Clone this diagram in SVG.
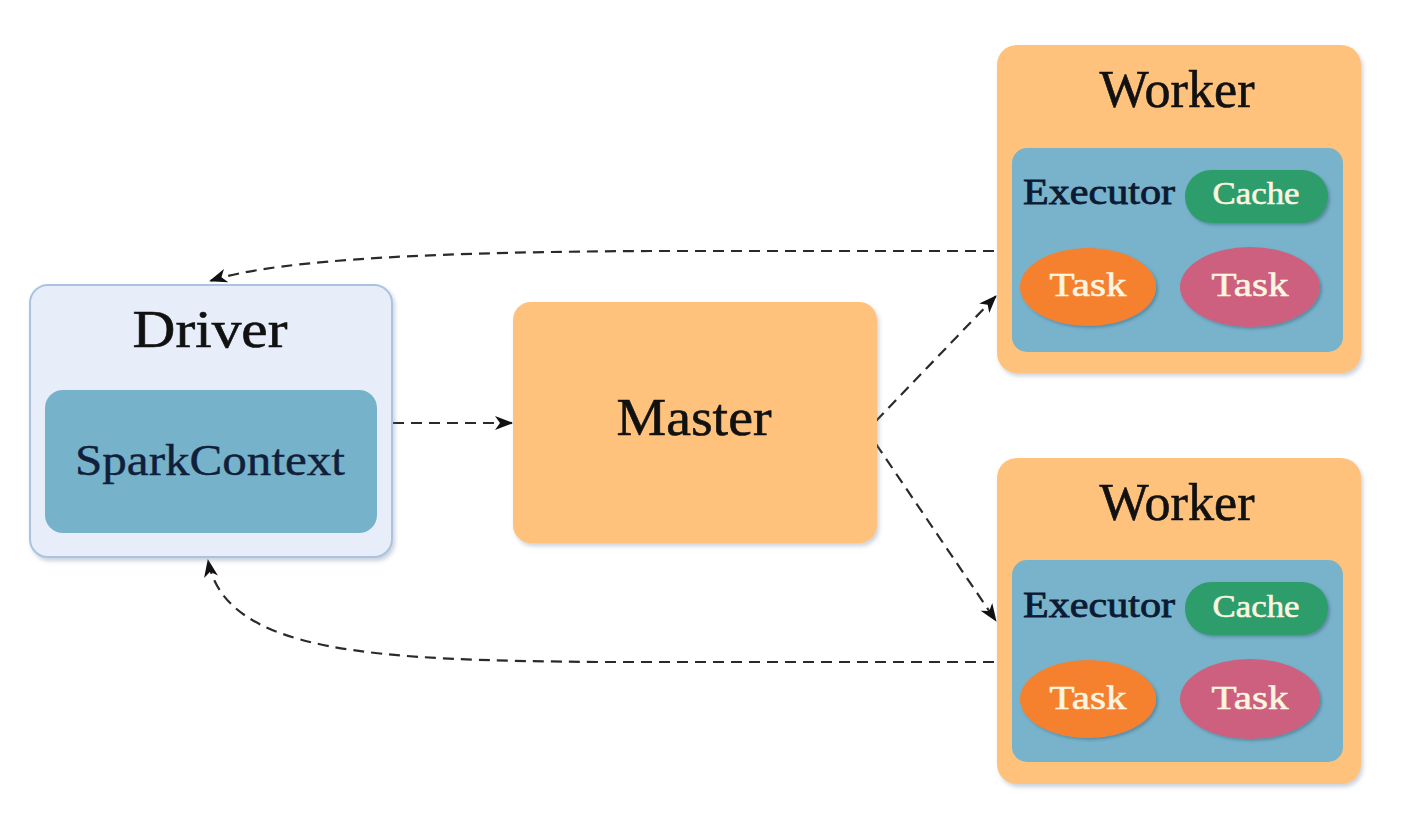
<svg xmlns="http://www.w3.org/2000/svg" width="1416" height="826" viewBox="0 0 1416 826">
<defs>
<filter id="sh" x="-10%" y="-10%" width="120%" height="120%">
<feDropShadow dx="2" dy="3" stdDeviation="2" flood-color="#6a7d95" flood-opacity="0.35"/>
</filter>
<filter id="sh2" x="-10%" y="-10%" width="125%" height="130%">
<feDropShadow dx="2" dy="2" stdDeviation="1.5" flood-color="#2f4f66" flood-opacity="0.4"/>
</filter>
<marker id="ah" markerWidth="20" markerHeight="16" refX="17" refY="7" orient="auto" markerUnits="userSpaceOnUse">
<path d="M0,0 L18,7 L0,14 L5,7 Z" fill="#111"/>
</marker>
<style>
.worker{fill:#ffc27c;filter:url(#sh)}
.exec{fill:#78b3cb}
.title{font-family:"Liberation Serif",serif;font-size:52px;fill:#111;stroke:#111;stroke-width:0.6;text-anchor:middle}
.sc{font-family:"Liberation Serif",serif;font-size:44px;fill:#10203a;stroke:#10203a;stroke-width:0.4;text-anchor:middle}
.ex{font-family:"Liberation Serif",serif;font-size:35px;fill:#0c1a33;stroke:#0c1a33;stroke-width:0.8}
.lbl{font-family:"Liberation Serif",serif;fill:#fbf6e0;stroke:#fbf6e0;stroke-width:0.6;text-anchor:middle}
.cache{fill:#2f9d6c;filter:url(#sh2)}
.t1{fill:#f5812d;filter:url(#sh2)}
.t2{fill:#cd607e;filter:url(#sh2)}
.conn{fill:none;stroke:#2a2a2a;stroke-width:2.2;stroke-dasharray:11 7}
</style>
</defs>
<rect width="1416" height="826" fill="#ffffff"/>

<g id="connectors">
<path class="conn" d="M393,423 L512,423" marker-end="url(#ah)"/>
<path class="conn" d="M876,421 L996,296" marker-end="url(#ah)"/>
<path class="conn" d="M876,444 L996,621" marker-end="url(#ah)"/>
<path class="conn" d="M1012,251 L650,251 C450,252 280,258 210,281" marker-end="url(#ah)"/>
<path class="conn" d="M1012,662 L600,662 C380,660 225,655 208,560" marker-end="url(#ah)"/>
</g>

<g id="driver">
<rect x="30" y="285" width="362" height="272" rx="18" fill="#e7eef9" stroke="#aac3e3" stroke-width="2" filter="url(#sh)"/>
<rect x="45" y="390" width="332" height="143" rx="18" fill="#77b2cb"/>
<text class="title" x="210" y="347" textLength="155" lengthAdjust="spacingAndGlyphs">Driver</text>
<text class="sc" x="210" y="475" textLength="270" lengthAdjust="spacingAndGlyphs">SparkContext</text>
</g>

<g id="master">
<rect x="513" y="302" width="364" height="241" rx="18" fill="#ffc27c" filter="url(#sh)"/>
<text class="title" x="694" y="435" textLength="155" lengthAdjust="spacingAndGlyphs">Master</text>
</g>

<g id="worker1">
<rect class="worker" x="997" y="45" width="364" height="328" rx="20"/>
<text class="title" x="1177" y="107" textLength="155" lengthAdjust="spacingAndGlyphs">Worker</text>
<rect class="exec" x="1012" y="148" width="331" height="204" rx="15"/>
<text class="ex" x="1023" y="204" textLength="152" lengthAdjust="spacingAndGlyphs">Executor</text>
<rect class="cache" x="1185" y="170" width="143" height="53" rx="26"/>
<text class="lbl" x="1256" y="204" font-size="32" textLength="87" lengthAdjust="spacingAndGlyphs">Cache</text>
<ellipse class="t1" cx="1088" cy="287" rx="68" ry="39"/>
<text class="lbl" x="1088" y="296" font-size="34" textLength="77" lengthAdjust="spacingAndGlyphs">Task</text>
<ellipse class="t2" cx="1250" cy="287" rx="70" ry="40"/>
<text class="lbl" x="1250" y="296" font-size="34" textLength="77" lengthAdjust="spacingAndGlyphs">Task</text>
</g>

<g id="worker2">
<rect class="worker" x="997" y="458" width="364" height="326" rx="20"/>
<text class="title" x="1177" y="520" textLength="155" lengthAdjust="spacingAndGlyphs">Worker</text>
<rect class="exec" x="1012" y="560" width="331" height="202" rx="15"/>
<text class="ex" x="1023" y="617" textLength="152" lengthAdjust="spacingAndGlyphs">Executor</text>
<rect class="cache" x="1185" y="582" width="143" height="53" rx="26"/>
<text class="lbl" x="1256" y="617" font-size="32" textLength="87" lengthAdjust="spacingAndGlyphs">Cache</text>
<ellipse class="t1" cx="1088" cy="699" rx="68" ry="39"/>
<text class="lbl" x="1088" y="709" font-size="34" textLength="77" lengthAdjust="spacingAndGlyphs">Task</text>
<ellipse class="t2" cx="1250" cy="699" rx="70" ry="40"/>
<text class="lbl" x="1250" y="709" font-size="34" textLength="77" lengthAdjust="spacingAndGlyphs">Task</text>
</g>
</svg>
